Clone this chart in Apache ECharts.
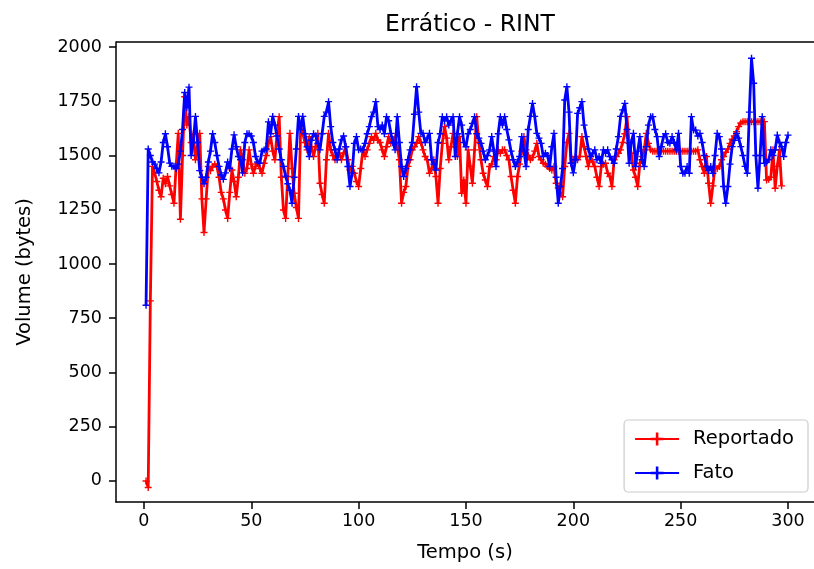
<!DOCTYPE html>
<html>
<head>
<meta charset="utf-8">
<script src="https://cdn.jsdelivr.net/npm/echarts@6/dist/echarts.min.js"></script>
<style>
html,body{margin:0;padding:0;background:#fff;}
#chart{width:814px;height:569px;}
</style>
</head>
<body>
<div id="chart"></div>
<script>
// Tick labels
const xTicks = [0, 50, 100, 150, 200, 250, 300];
const yTicks = [0, 250, 500, 750, 1000, 1250, 1500, 1750, 2000];

// Fato (blue), t = 1..300
const fato = [
  810,1530,1500,1470,1460,1440,1420,1470,1560,1600,
  1540,1465,1450,1450,1440,1460,1520,1620,1790,1720,
  1815,1500,1560,1680,1560,1430,1400,1370,1400,1470,
  1520,1600,1560,1500,1450,1410,1390,1420,1470,1440,
  1530,1595,1540,1495,1480,1420,1560,1600,1600,1590,
  1560,1495,1470,1465,1520,1525,1530,1655,1600,1680,
  1640,1590,1530,1480,1450,1405,1370,1340,1280,1400,
  1530,1680,1620,1680,1600,1540,1495,1570,1600,1590,
  1555,1526,1600,1680,1700,1748,1633,1560,1526,1480,
  1530,1572,1590,1540,1449,1357,1420,1556,1587,1526,
  1530,1526,1556,1600,1633,1679,1700,1748,1633,1620,
  1640,1600,1679,1660,1602,1560,1526,1679,1560,1449,
  1403,1440,1480,1526,1560,1690,1817,1700,1602,1602,
  1560,1580,1602,1480,1460,1433,1560,1600,1679,1660,
  1679,1640,1660,1679,1495,1600,1679,1640,1560,1540,
  1600,1620,1648,1679,1600,1580,1556,1520,1480,1500,
  1526,1587,1520,1449,1600,1679,1640,1679,1620,1572,
  1520,1480,1449,1470,1495,1587,1520,1449,1620,1680,
  1740,1680,1602,1580,1556,1495,1510,1500,1449,1540,
  1602,1400,1280,1357,1440,1756,1817,1700,1464,1420,
  1480,1694,1720,1748,1640,1587,1530,1495,1510,1526,
  1480,1495,1464,1526,1510,1526,1495,1480,1464,1530,
  1587,1680,1710,1740,1620,1464,1560,1602,1449,1520,
  1587,1480,1449,1541,1640,1679,1679,1620,1587,1495,
  1540,1587,1600,1560,1556,1587,1560,1526,1602,1449,
  1418,1418,1449,1418,1679,1617,1617,1590,1602,1560,
  1500,1449,1430,1449,1418,1500,1602,1587,1530,1357,
  1280,1357,1460,1541,1570,1602,1580,1541,1500,1450,
  1418,1700,1948,1833,1500,1349,1500,1679,1464,1470,
  1480,1526,1500,1526,1594,1560,1541,1495,1560,1594
];

// Reportado (red), t = 1..297
const reportado = [
  0,-30,830,1450,1420,1380,1340,1310,1395,1370,
  1403,1360,1320,1280,1450,1602,1206,1500,1771,1640,
  1679,1560,1600,1480,1540,1602,1300,1145,1300,1449,
  1430,1449,1460,1449,1400,1330,1300,1249,1210,1330,
  1433,1380,1310,1400,1526,1480,1418,1440,1526,1460,
  1418,1450,1464,1440,1418,1464,1500,1556,1587,1520,
  1480,1602,1679,1400,1249,1210,1403,1602,1440,1326,
  1260,1210,1633,1602,1560,1526,1587,1540,1495,1540,
  1602,1372,1320,1280,1480,1602,1526,1500,1480,1495,
  1510,1480,1510,1541,1480,1433,1450,1418,1380,1357,
  1440,1526,1495,1526,1556,1587,1570,1602,1570,1560,
  1526,1495,1540,1587,1556,1570,1587,1540,1480,1280,
  1330,1357,1450,1480,1526,1540,1556,1587,1560,1526,
  1495,1480,1418,1440,1480,1403,1280,1440,1556,1633,
  1580,1480,1540,1602,1541,1495,1587,1326,1387,1280,
  1526,1450,1372,1526,1679,1560,1480,1418,1387,1357,
  1449,1460,1495,1480,1526,1510,1526,1526,1500,1480,
  1403,1340,1280,1403,1460,1520,1587,1526,1500,1480,
  1490,1520,1556,1495,1480,1464,1460,1449,1440,1433,
  1449,1372,1350,1326,1310,1449,1560,1602,1464,1480,
  1495,1480,1495,1587,1540,1495,1449,1495,1470,1449,
  1400,1357,1449,1460,1464,1418,1403,1357,1480,1495,
  1510,1526,1560,1600,1679,1556,1510,1433,1400,1357,
  1464,1495,1526,1602,1556,1526,1520,1520,1520,1520,
  1520,1520,1520,1520,1520,1520,1520,1520,1520,1520,
  1520,1520,1520,1520,1520,1520,1520,1526,1480,1449,
  1418,1495,1372,1280,1360,1449,1440,1449,1480,1495,
  1515,1530,1556,1575,1590,1610,1633,1650,1656,1656,
  1656,1656,1656,1656,1656,1656,1656,1656,1656,1387,
  1390,1400,1526,1349,1450,1526,1360
];

const fatoData = fato.map((v, i) => [i + 1, v]);
const reportadoData = reportado.map((v, i) => [i + 1, v]);

const plus = 'path://M-0.2,-1L0.2,-1L0.2,-0.2L1,-0.2L1,0.2L0.2,0.2L0.2,1L-0.2,1L-0.2,0.2L-1,0.2L-1,-0.2L-0.2,-0.2Z';
const font = 'DejaVu Sans';
const red = '#ff0000';
const blue = '#0000ff';

const chart = echarts.init(document.getElementById('chart'), null, {renderer: 'canvas'});
chart.setOption({
  animation: false,
  backgroundColor: '#ffffff',
  textStyle: {fontFamily: font},
  title: {
    text: 'Errático - RINT',
    left: 465, top: 8, textAlign: 'center',
    textStyle: {fontFamily: font, fontSize: 23.5, fontWeight: 'normal', color: '#000'}
  },
  grid: {left: 116, top: 42, width: 699, height: 460, containLabel: false},
  xAxis: {
    type: 'value', min: -13, max: 312.1,
    name: 'Tempo (s)', nameLocation: 'middle', nameGap: 41,
    nameTextStyle: {fontFamily: font, fontSize: 19.5, color: '#000'},
    axisLine: {onZero: false, lineStyle: {color: '#000', width: 1.5}},
    axisTick: {customValues: xTicks, length: 7, lineStyle: {color: '#000', width: 1.5}},
    axisLabel: {customValues: xTicks, fontFamily: font, fontSize: 17.5, color: '#000', margin: 10,
      formatter: v => String(v)},
    splitLine: {show: false}
  },
  yAxis: {
    type: 'value', min: -97, max: 2023,
    name: 'Volume (bytes)', nameLocation: 'middle', nameGap: 81,
    nameTextStyle: {fontFamily: font, fontSize: 19.5, color: '#000'},
    axisLine: {onZero: false, show: true, lineStyle: {color: '#000', width: 1.5}},
    axisTick: {show: true, customValues: yTicks, length: 7, lineStyle: {color: '#000', width: 1.5}},
    axisLabel: {customValues: yTicks, fontFamily: font, fontSize: 17.5, color: '#000', margin: 14,
      formatter: v => String(v)},
    splitLine: {show: false}
  },
  legend: {
    orient: 'vertical', right: 6, top: 420,
    padding: [9, 14, 9, 10],
    borderColor: '#cccccc', borderWidth: 1.2, borderRadius: 4,
    backgroundColor: '#ffffff',
    itemWidth: 44, itemHeight: 16, itemGap: 14,
    textStyle: {fontFamily: font, fontSize: 19.5, color: '#000', padding: [0, 0, 0, 9]},
    data: ['Reportado', 'Fato']
  },
  graphic: [{
    type: 'line', silent: true, z: 100,
    shape: {x1: 116, y1: 42, x2: 815, y2: 42},
    style: {stroke: '#000', lineWidth: 1.5}
  }],
  series: [
    {
      name: 'Reportado', type: 'line', data: reportadoData,
      symbol: plus, symbolSize: 7, showSymbol: true, showAllSymbol: true,
      lineStyle: {color: red, width: 2.8},
      itemStyle: {color: red, borderColor: red, borderWidth: 0, opacity: 1},
      emphasis: {disabled: true},
      z: 2
    },
    {
      name: 'Fato', type: 'line', data: fatoData,
      symbol: plus, symbolSize: 7, showSymbol: true, showAllSymbol: true,
      lineStyle: {color: blue, width: 2.8},
      itemStyle: {color: blue, borderColor: blue, borderWidth: 0, opacity: 1},
      emphasis: {disabled: true},
      z: 3
    }
  ]
});
</script>
</body>
</html>
